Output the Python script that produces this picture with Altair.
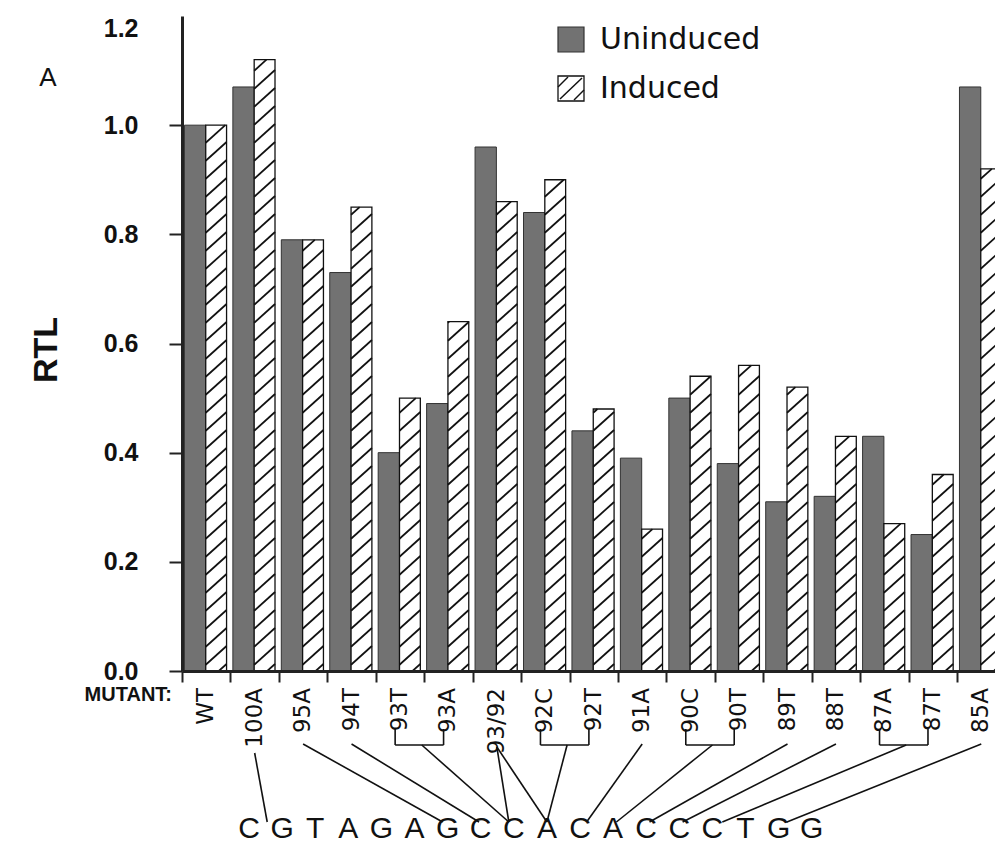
import altair as alt
import pandas as pd

# ---------------- data ----------------
mutants = ["WT", "100A", "95A", "94T", "93T", "93A", "93/92", "92C", "92T",
           "91A", "90C", "90T", "89T", "88T", "87A", "87T", "85A"]
uninduced = [1.00, 1.07, 0.79, 0.73, 0.40, 0.49, 0.96, 0.84, 0.44,
             0.39, 0.50, 0.38, 0.31, 0.32, 0.43, 0.25, 1.07]
induced = [1.00, 1.12, 0.79, 0.85, 0.50, 0.64, 0.86, 0.90, 0.48,
           0.26, 0.54, 0.56, 0.52, 0.43, 0.27, 0.36, 0.92]
series_names = ["Uninduced", "Induced"]
y_ticks = [0.0, 0.2, 0.4, 0.6, 0.8, 1.0, 1.2]
sequence = list("CGTAGAGCCACACCCTGG")

# connectors: mutant label group -> place along the sequence (letter index)
conn_groups = [["100A"], ["95A"], ["94T"], ["93T", "93A"], ["93/92"], ["93/92"],
               ["92C", "92T"], ["91A"], ["90C", "90T"], ["89T"], ["88T"],
               ["87A", "87T"], ["85A"]]
conn_letter = [0.55, 5.85, 6.95, 7.85, 7.85, 9.0, 9.0, 10.2, 11.1, 12.1, 13.1, 14.3, 16.25]

# ---------------- layout ----------------
W, H = 813, 655
BAND = 48.44
XMAX = W / BAND
YMAX = 1.2
PXY = H / YMAX
FONT = "Liberation Sans"
LFONT = "DejaVu Sans"


def v_of(py):  # plot-relative pixel y -> data value
    return (H - py) / PXY


def seq_u(t):  # letter index -> x units
    return (249 - 182) / BAND + t * 33.1 / BAND


idx = {m: i for i, m in enumerate(mutants)}

bars = pd.DataFrame(
    [dict(mutant=m, series="Uninduced", value=u, x0=i + 0.05, x1=i + 0.49)
     for i, (m, u) in enumerate(zip(mutants, uninduced))] +
    [dict(mutant=m, series="Induced", value=v, x0=i + 0.49, x1=i + 0.92)
     for i, (m, v) in enumerate(zip(mutants, induced))]
)

# hatch lines for induced bars
rows = []
m_slope, spacing = 0.9, 18.0
for i, v in enumerate(induced):
    wpx = 0.43 * BAND
    hpx = v * PXY
    x0 = i + 0.49
    c = -m_slope * wpx + 7
    while c < hpx:
        xl = max(0.0, -c / m_slope)
        xh = min(wpx, (hpx - c) / m_slope)
        if xh - xl > 0.5:
            rows.append(dict(x=x0 + xl / BAND, x2=x0 + xh / BAND,
                             y=(m_slope * xl + c) / PXY, y2=(m_slope * xh + c) / PXY))
        c += spacing
hatch = pd.DataFrame(rows)

# connector segments
seg = []
y_bottom = v_of(822 - 16)
for grp, t in zip(conn_groups, conn_letter):
    ux = seq_u(t)
    if len(grp) == 1:
        c = idx[grp[0]] + 0.5
        top = 753 if grp[0] == "100A" else (747 if grp[0] == "93/92" else 744)
        seg.append(dict(x=c, y=v_of(top - 16), x2=ux, y2=y_bottom))
    else:
        a = idx[grp[0]] + 0.5 - 0.1
        b = idx[grp[1]] + 0.5 - 0.1
        yb = v_of(745 - 16)
        ya = v_of(729 - 16)
        seg.append(dict(x=a, y=yb, x2=b, y2=yb))
        seg.append(dict(x=a, y=ya, x2=a, y2=yb))
        seg.append(dict(x=b, y=ya, x2=b, y2=yb))
        seg.append(dict(x=(a + b) / 2 + 0.05, y=yb, x2=ux, y2=y_bottom))
conn = pd.DataFrame(seg)

labels = pd.DataFrame(dict(mutant=mutants, xc=[i + 0.5 for i in range(len(mutants))]))
seq = pd.DataFrame(dict(letter=sequence, xs=[seq_u(k) for k in range(len(sequence))]))

xs = alt.Scale(domain=[0, XMAX], nice=False, zero=False)
ys = alt.Scale(domain=[0, YMAX], nice=False, zero=False)

x_axis = alt.Axis(
    values=list(range(0, 17)), labels=False, title=None, tickSize=11, tickWidth=2,
    domainWidth=3, domainColor="#222222", tickColor="#222222", grid=False, zindex=1)
y_axis = alt.Axis(
    values=y_ticks, format=".1f", title=None, tickSize=13, tickWidth=2,
    domainWidth=3, domainColor="#222222", tickColor="#222222", grid=False, zindex=1,
    labelFont=FONT, labelFontSize=25, labelFontWeight="bold", labelColor="#111111",
    labelPadding=31,
    labelBaseline={"condition": {"test": "datum.value > 1.1", "value": "top"}, "value": "middle"},
    tickOpacity={"condition": {"test": "datum.value > 1.1", "value": 0}, "value": 1})

base_bars = alt.Chart(bars)

unind_layer = base_bars.transform_filter(alt.datum.series == "Uninduced").mark_bar(
    fill="#727272", stroke="#333333", strokeWidth=1, clip=True
).encode(
    x=alt.X("x0:Q", scale=xs, axis=x_axis), x2="x1:Q",
    y=alt.Y("value:Q", scale=ys, axis=y_axis), y2=alt.datum(0),
)

ind_layer = base_bars.transform_filter(alt.datum.series == "Induced").mark_bar(
    fill="white", stroke="#111111", strokeWidth=1.3, clip=True
).encode(
    x=alt.X("x0:Q", scale=xs, axis=x_axis), x2="x1:Q",
    y=alt.Y("value:Q", scale=ys, axis=y_axis), y2=alt.datum(0),
)

hatch_layer = alt.Chart(hatch).mark_rule(color="#111111", strokeWidth=1.7, clip=True).encode(
    x=alt.X("x:Q", scale=xs, axis=x_axis), x2="x2:Q",
    y=alt.Y("y:Q", scale=ys, axis=y_axis), y2="y2:Q",
)

conn_layer = alt.Chart(conn).mark_rule(color="#111111", strokeWidth=1.6).encode(
    x=alt.X("x:Q", scale=xs, axis=x_axis), x2="x2:Q",
    y=alt.Y("y:Q", scale=ys, axis=y_axis), y2="y2:Q",
)

label_layer = alt.Chart(labels).mark_text(
    angle=270, align="right", baseline="middle", font=LFONT, fontSize=23, color="#111111"
).encode(
    x=alt.X("xc:Q", scale=xs, axis=x_axis),
    y=alt.value(H + 17),
    text="mutant:N",
)

seq_layer = alt.Chart(seq).mark_text(
    align="center", baseline="middle", font=FONT, fontSize=30, color="#111111"
).encode(
    x=alt.X("xs:Q", scale=xs, axis=x_axis),
    y=alt.value(829 - 16),
    text="letter:N",
)

one = pd.DataFrame({"k": [0]})


def txt(s, x, y, size, weight="normal", align="left", font=FONT, angle=0):
    kw = dict(align=align, baseline="middle", font=font, fontSize=size,
              fontWeight=weight, color="#111111")
    if angle:
        kw["angle"] = angle
    return alt.Chart(one).mark_text(**kw).encode(
        x=alt.value(x), y=alt.value(y), text=alt.datum(s))


# legend
leg_unind = alt.Chart(one).mark_rect(fill="#727272", stroke="#333333", strokeWidth=1.2).encode(
    x=alt.value(558 - 182), x2=alt.value(584 - 182), y=alt.value(27 - 16), y2=alt.value(52 - 16))
leg_ind = alt.Chart(one).mark_rect(fill="white", stroke="#111111", strokeWidth=1.3).encode(
    x=alt.value(558 - 182), x2=alt.value(584 - 182), y=alt.value(76 - 16), y2=alt.value(101 - 16))
leg_h1 = alt.Chart(one).mark_rule(color="#111111", strokeWidth=1.5).encode(
    x=alt.value(560 - 182), x2=alt.value(582 - 182), y=alt.value(99 - 16), y2=alt.value(78 - 16))
leg_h2 = alt.Chart(one).mark_rule(color="#111111", strokeWidth=1.5).encode(
    x=alt.value(558 - 182), x2=alt.value(568 - 182), y=alt.value(87 - 16), y2=alt.value(77 - 16))
leg_h3 = alt.Chart(one).mark_rule(color="#111111", strokeWidth=1.5).encode(
    x=alt.value(574 - 182), x2=alt.value(584 - 182), y=alt.value(100 - 16), y2=alt.value(90 - 16))

t_unind = txt(series_names[0], 600 - 182, 40 - 16, 30, font=LFONT)
t_ind = txt(series_names[1], 600 - 182, 89 - 16, 30, font=LFONT)
t_A = txt("A", 48 - 182, 78 - 16, 26, align="center")
t_rtl = txt("RTL", 47 - 182, 350 - 16, 34, weight="bold", align="center", angle=270)
t_mut = txt("MUTANT:", 172 - 182, 695 - 16, 20, weight="bold", align="right")

chart = alt.layer(
    unind_layer, ind_layer, hatch_layer, conn_layer, label_layer, seq_layer,
    leg_unind, leg_ind, leg_h1, leg_h2, leg_h3, t_unind, t_ind, t_A, t_rtl, t_mut,
).properties(
    width=W, height=H,
    autosize=alt.AutoSizeParams(type="none"),
    padding={"left": 174, "top": 8, "right": 0, "bottom": 180},
    background="white",
).configure_view(stroke=None)

chart.save("out.html", embed_options={"renderer": "svg", "actions": False})
